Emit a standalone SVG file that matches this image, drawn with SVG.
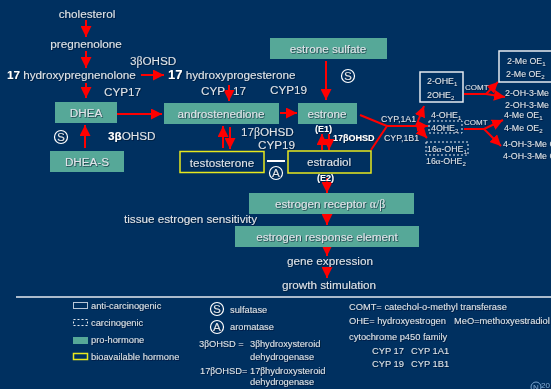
<svg xmlns="http://www.w3.org/2000/svg" width="551" height="389" viewBox="0 0 551 389">
<defs>
<marker id="ah" markerUnits="userSpaceOnUse" markerWidth="12" markerHeight="11" refX="11" refY="5.500" orient="auto"><path d="M0 0L11 5.500L0 11z" fill="#f00"/></marker>
<filter id="sh" x="-5%" y="-20%" width="110%" height="140%"><feDropShadow dx="0.7" dy="0.7" stdDeviation="0.3" flood-color="#001028" flood-opacity="0.8"/></filter>
</defs>
<style>
text{font-family:"Liberation Sans",Arial,sans-serif;font-size:11.700px;fill:#dfe4ea;filter:url(#sh)}
.m{text-anchor:middle}
.b{font-weight:bold;fill:#fff}
.s{font-size:8.800px}
.e{font-size:9px;font-weight:bold;fill:#fff}
.t{font-size:8px}
.l{font-size:9.300px}
.sub{font-size:6px}
.g{fill:#56a898}
.y{fill:none;stroke:#e8e81e;stroke-width:1.5}
.w{fill:none;stroke:#e6eaf0;stroke-width:1.5}
.d{fill:none;stroke:#e6eaf0;stroke-width:1;stroke-dasharray:2 2}
.a{fill:none;stroke:#f00;stroke-width:2;marker-end:url(#ah)}
.p{fill:none;stroke:#f00;stroke-width:2}
.c{fill:none;stroke:#fff;stroke-width:1.2}
</style>
<rect width="551" height="389" fill="#003060"/>

<g id="connectors">
<path class="a" d="M86 20V37"/>
<path class="a" d="M86 51V68"/>
<path class="a" d="M86 83V98"/>
<path class="a" d="M141 75H164"/>
<path class="a" d="M229 85V101"/>
<path class="a" d="M116 114H162"/>
<path class="a" d="M85 148V125"/>
<path class="a" d="M223 148V126"/>
<path class="a" d="M230 127V149"/>
<path class="a" d="M326 61V100"/>
<path class="a" d="M280 113H297"/>
<path class="a" d="M322 150V134"/>
<path class="a" d="M329 134V150"/>
<path class="a" d="M327 178V193"/>
<path class="a" d="M327 214V225"/>
<path class="a" d="M327 247V256"/>
<path class="a" d="M327 270V278"/>
<path class="p" d="M360 115L387 126L371 150"/>
<path class="a" d="M416 126L424 106"/>
<path class="a" d="M387 126H428"/>
<path class="a" d="M417 127L427 138"/>
<path class="p" d="M464 94H486"/>
<path class="a" d="M486 94L498 82"/>
<path class="a" d="M486 94L505 97"/>
<path class="p" d="M464 129H484"/>
<path class="a" d="M484 129L503 120"/>
<path class="a" d="M484 129L501 146"/>
</g>

<g id="cholesterol"><text class="m" x="87" y="18">cholesterol</text></g>
<g id="pregnenolone"><text class="m" x="86" y="48">pregnenolone</text></g>
<g id="hydroxypregnenolone"><text x="7" y="79"><tspan class="b">17</tspan> hydroxypregnenolone</text></g>
<g id="hydroxyprogesterone"><text x="168" y="79"><tspan class="b" font-size="13">17</tspan> hydroxyprogesterone</text></g>
<g id="dhea"><rect class="g" x="55" y="102" width="62" height="21"/><text class="m" x="86" y="117">DHEA</text></g>
<g id="dhea-s"><rect class="g" x="50" y="151" width="74" height="21"/><text class="m" x="87" y="166">DHEA-S</text></g>
<g id="androstenedione"><rect class="g" x="164" y="103" width="115" height="21"/><text class="m" x="221" y="118">androstenedione</text></g>
<g id="estrone-sulfate"><rect class="g" x="270" y="38" width="117" height="21"/><text class="m" x="328" y="53">estrone sulfate</text></g>
<g id="estrone"><rect class="g" x="298" y="103" width="59" height="21"/><text class="m" x="327" y="118">estrone</text></g>
<g id="testosterone"><rect class="y" x="180" y="151.500" width="84" height="21"/><text class="m" x="222" y="167">testosterone</text></g>
<g id="estradiol"><rect class="y" x="288" y="151" width="83" height="22"/><text class="m" x="329" y="166">estradiol</text></g>
<g id="estrogen-receptor"><rect class="g" x="249" y="193" width="165" height="21"/><text class="m" x="330" y="208">estrogen receptor <tspan font-family="Liberation Serif">α/β</tspan></text></g>
<g id="estrogen-response-element"><rect class="g" x="235" y="226" width="184" height="21"/><text class="m" x="327" y="241">estrogen response element</text></g>
<g id="gene-expression"><text class="m" x="330" y="265">gene expression</text></g>
<g id="growth-stimulation"><text class="m" x="329" y="289">growth stimulation</text></g>
<g id="tissue-sensitivity"><text x="124" y="223">tissue estrogen sensitivity</text></g>

<g id="enzymes">
<text x="130" y="65">3<tspan font-family="Liberation Serif">β</tspan>OHSD</text>
<text x="104" y="96">CYP17</text>
<text x="201" y="95">CYP</text><text x="233" y="95">17</text>
<text x="270" y="94">CYP19</text>
<text x="108" y="140"><tspan class="b">3β</tspan>OHSD</text>
<text x="241" y="136">17<tspan font-family="Liberation Serif">β</tspan>OHSD</text>
<text x="258" y="149">CYP19</text>
<text class="e" x="315" y="132">(E1)</text>
<text class="e" x="333" y="141">17βOHSD</text>
<text class="e" x="317" y="181">(E2)</text>
<text class="s" x="381" y="122">CYP,1A1</text>
<text class="s" x="384" y="141">CYP,1B1</text>
<text class="t" x="465" y="90">COMT</text>
<text class="t" x="464" y="125">COMT</text>
<path d="M267 161H285" stroke="#fff" stroke-width="2"/>
<circle class="c" cx="348" cy="76" r="6.500"/><text class="m" x="348" y="80" font-size="11">S</text>
<circle class="c" cx="61" cy="137" r="6.500"/><text class="m" x="61" y="141" font-size="11">S</text>
<circle class="c" cx="276" cy="173" r="6.500"/><text class="m" x="276" y="177" font-size="11">A</text>
</g>

<g id="metabolite-2ohe"><rect class="w" x="420" y="72" width="43" height="30"/><text class="s" x="427" y="84">2-OHE<tspan class="sub" dy="2">1</tspan></text><text class="s" x="427" y="98">2OHE<tspan class="sub" dy="2">2</tspan></text></g>
<g id="metabolite-2me"><rect class="w" x="499" y="51" width="53" height="31"/><text class="s" x="507" y="64">2-Me OE<tspan class="sub" dy="2">1</tspan></text><text class="s" x="506" y="77">2-Me OE<tspan class="sub" dy="2">2</tspan></text></g>
<g id="metabolite-2oh3me"><text class="s" x="505" y="96">2-OH-3-Me O</text><text class="s" x="505" y="108">2-OH-3-Me O</text></g>
<g id="metabolite-4ohe"><text class="s" x="431" y="118">4-OHE<tspan class="sub" dy="2">1</tspan></text><rect class="d" x="429" y="121" width="33" height="12"/><text class="s" x="431" y="131">4OHE<tspan class="sub" dy="2">2</tspan></text></g>
<g id="metabolite-4me"><text class="s" x="504" y="118">4-Me OE<tspan class="sub" dy="2">1</tspan></text><text class="s" x="504" y="131">4-Me OE<tspan class="sub" dy="2">2</tspan></text></g>
<g id="metabolite-4oh3me"><text class="s" x="503" y="147">4-OH-3-Me O</text><text class="s" x="503" y="159">4-OH-3-Me O</text></g>
<g id="metabolite-16ohe"><rect class="d" x="426" y="142" width="42" height="13"/><text class="s" x="427" y="152">16<tspan font-family="Liberation Serif">α</tspan>-OHE<tspan class="sub" dy="2">1</tspan></text><text class="s" x="426" y="164">16<tspan font-family="Liberation Serif">α</tspan>-OHE<tspan class="sub" dy="2">2</tspan></text></g>

<g id="legend">
<path d="M16 297H551" stroke="#e6eaf0" stroke-width="1.500"/>
<rect x="73.500" y="302.500" width="14" height="6" fill="none" stroke="#b9c7d8"/><text class="l" x="91" y="309">anti-carcinogenic</text>
<rect class="d" x="73.500" y="319.500" width="14" height="6"/><text class="l" x="91" y="326">carcinogenic</text>
<rect class="g" x="73" y="337" width="15" height="7"/><text class="l" x="91" y="343">pro-hormone</text>
<rect class="y" x="73.500" y="353.500" width="14" height="6"/><text class="l" x="91" y="360">bioavailable hormone</text>
<circle class="c" cx="217" cy="309" r="6.500"/><text class="m" x="217" y="313" font-size="11">S</text><text class="l" x="230" y="313">sulfatase</text>
<circle class="c" cx="217" cy="327" r="6.500"/><text class="m" x="217" y="331" font-size="11">A</text><text class="l" x="230" y="330">aromatase</text>
<text class="l" x="199" y="347">3<tspan font-family="Liberation Serif">β</tspan>OHSD =</text><text class="l" x="250" y="347">3<tspan font-family="Liberation Serif">β</tspan>hydroxysteroid</text><text class="l" x="250" y="360">dehydrogenase</text>
<text class="l" x="200" y="374">17<tspan font-family="Liberation Serif">β</tspan>OHSD=</text><text class="l" x="250" y="374">17<tspan font-family="Liberation Serif">β</tspan>hydroxysteroid</text><text class="l" x="250" y="385">dehydrogenase</text>
<text class="l" x="349" y="310">COMT= catechol-o-methyl transferase</text>
<text class="l" x="349" y="324">OHE= hydroxyestrogen</text><text class="l" x="454" y="324">MeO=methoxyestradiol</text>
<text class="l" x="349" y="340">cytochrome p450 family</text>
<text class="l" x="372" y="354">CYP 17</text><text class="l" x="411" y="354">CYP 1A1</text>
<text class="l" x="372" y="367">CYP 19</text><text class="l" x="411" y="367">CYP 1B1</text>
<circle cx="536" cy="387" r="5" fill="none" stroke="#7aa5d0"/><text class="m" x="536" y="390" style="fill:#7aa5d0;font-size:8px">N</text><text x="541" y="388" style="fill:#7aa5d0;font-size:8px">20</text>
</g>
</svg>
